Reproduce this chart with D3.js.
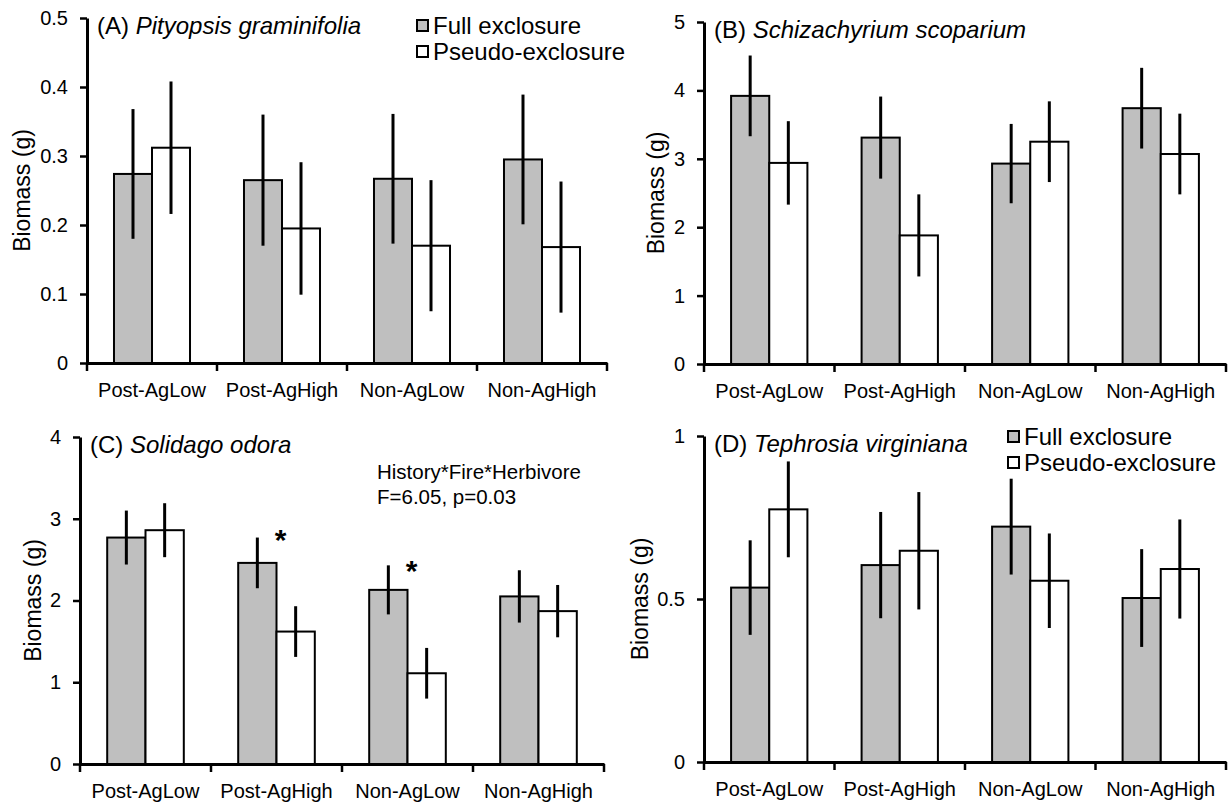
<!DOCTYPE html>
<html>
<head>
<meta charset="utf-8">
<script src="https://cdn.jsdelivr.net/npm/d3@7"></script>
<style>
  body { margin: 0; background: #fff; }
  svg { font-family: "Liberation Sans", Arial, sans-serif; }
</style>
</head>
<body>
<div id="chart"></div>
<script>
const width = 1231;
const height = 809;

const groups = ["Post-AgLow", "Post-AgHigh", "Non-AgLow", "Non-AgHigh"];
const series = ["Full exclosure", "Pseudo-exclosure"];

// (A) Pityopsis graminifolia
const pityFull = [0.274, 0.265, 0.267, 0.295];
const pityFullErr = [0.094, 0.095, 0.094, 0.094];
const pityPseudo = [0.312, 0.195, 0.170, 0.168];
const pityPseudoErr = [0.096, 0.096, 0.095, 0.095];
const pityTicks = [0, 0.1, 0.2, 0.3, 0.4, 0.5];

// (B) Schizachyrium scoparium
const schiFull = [3.92, 3.31, 2.93, 3.74];
const schiFullErr = [0.59, 0.60, 0.58, 0.59];
const schiPseudo = [2.94, 1.88, 3.25, 3.07];
const schiPseudoErr = [0.61, 0.60, 0.59, 0.59];
const schiTicks = [0, 1, 2, 3, 4, 5];

// (C) Solidago odora
const soliFull = [2.77, 2.46, 2.13, 2.05];
const soliFullErr = [0.33, 0.31, 0.30, 0.32];
const soliPseudo = [2.86, 1.62, 1.11, 1.87];
const soliPseudoErr = [0.33, 0.31, 0.31, 0.32];
const soliTicks = [0, 1, 2, 3, 4];
const soliStars = [null, 2.85, 2.47, null];

// (D) Tephrosia virginiana
const tephFull = [0.535, 0.604, 0.722, 0.503];
const tephFullErr = [0.145, 0.163, 0.147, 0.150];
const tephPseudo = [0.775, 0.648, 0.556, 0.592];
const tephPseudoErr = [0.147, 0.180, 0.145, 0.152];
const tephTicks = [0, 0.5, 1];

const fills = ["#bfbfbf", "#ffffff"];

const svg = d3.select("#chart")
  .append("svg")
  .attr("width", width)
  .attr("height", height);

function drawPanel(p) {
  const x0 = d3.scaleBand()
    .domain(groups)
    .range([p.left, p.right])
    .padding(0);

  const x1 = d3.scaleBand()
    .domain(series)
    .range([0, x0.bandwidth()])
    .paddingInner(0)
    .paddingOuter(0.71);

  const y = d3.scaleLinear()
    .domain([0, p.max])
    .range([p.bottom, p.top]);

  const g = svg.append("g");

  const rows = groups.map((grp, i) => ({
    grp: grp,
    vals: [
      { s: series[0], v: p.full[i], e: p.fullErr[i] },
      { s: series[1], v: p.pseudo[i], e: p.pseudoErr[i] }
    ]
  }));

  const grpG = g.selectAll("g.grp")
    .data(rows)
    .join("g")
    .attr("class", "grp")
    .attr("transform", d => `translate(${x0(d.grp)},0)`);

  grpG.selectAll("rect")
    .data(d => d.vals)
    .join("rect")
    .attr("x", d => x1(d.s))
    .attr("y", d => y(d.v))
    .attr("width", x1.bandwidth())
    .attr("height", d => y(0) - y(d.v))
    .attr("fill", (d, i) => fills[i])
    .attr("stroke", "#000")
    .attr("stroke-width", 2);

  grpG.selectAll("line.err")
    .data(d => d.vals)
    .join("line")
    .attr("class", "err")
    .attr("x1", d => x1(d.s) + x1.bandwidth() / 2)
    .attr("x2", d => x1(d.s) + x1.bandwidth() / 2)
    .attr("y1", d => y(d.v - d.e))
    .attr("y2", d => y(d.v + d.e))
    .attr("stroke", "#000")
    .attr("stroke-width", 3);

  // y axis
  const yAxis = d3.axisLeft(y)
    .tickValues(p.ticks)
    .tickSize(7)
    .tickSizeOuter(0)
    .tickPadding(12)
    .tickFormat(d => String(d));

  g.append("g")
    .attr("transform", `translate(${p.left},0)`)
    .call(yAxis)
    .call(a => a.select(".domain").attr("stroke-width", 3))
    .call(a => a.selectAll(".tick line").attr("stroke-width", 2.5))
    .call(a => a.selectAll(".tick text").attr("font-size", 20).attr("fill", "#000"));

  // x axis: labels centred, ticks at band boundaries
  const xAxis = d3.axisBottom(x0)
    .tickSize(0)
    .tickSizeOuter(0)
    .tickPadding(20);

  g.append("g")
    .attr("transform", `translate(0,${p.bottom})`)
    .call(xAxis)
    .call(a => a.select(".domain").attr("stroke-width", 3))
    .call(a => a.selectAll(".tick text").attr("font-size", 20).attr("fill", "#000"));

  const bounds = [x0(groups[0])].concat(groups.map(d => x0(d) + x0.bandwidth()));
  g.selectAll("line.bnd")
    .data(bounds)
    .join("line")
    .attr("class", "bnd")
    .attr("x1", d => d).attr("x2", d => d)
    .attr("y1", p.bottom).attr("y2", p.bottom + 8)
    .attr("stroke", "#000")
    .attr("stroke-width", 2.5);

  // y label
  g.append("text")
    .attr("transform", `translate(${p.left - p.labelOff},${(p.top + p.bottom) / 2}) rotate(-90)`)
    .attr("text-anchor", "middle")
    .attr("dy", "0.35em")
    .attr("font-size", 23)
    .text("Biomass (g)");

  // title
  const t = g.append("text")
    .attr("x", p.left + 10)
    .attr("y", p.top + 16)
    .attr("font-size", 24);
  t.append("tspan").text(p.letter + " ");
  t.append("tspan").attr("font-style", "italic").text(p.species);

  if (p.legend) {
    const lg = g.append("g")
      .attr("transform", `translate(${p.legendX},${p.legendY})`);
    lg.selectAll("rect")
      .data(series)
      .join("rect")
      .attr("x", 0)
      .attr("y", (d, i) => i * 26 - 5)
      .attr("width", 11)
      .attr("height", 11)
      .attr("fill", (d, i) => fills[i])
      .attr("stroke", "#000")
      .attr("stroke-width", 2);
    lg.selectAll("text")
      .data(series)
      .join("text")
      .attr("x", 16)
      .attr("y", (d, i) => i * 26)
      .attr("dy", "0.36em")
      .attr("font-size", 24)
      .text(d => d);
  }

  if (p.stars) {
    g.selectAll("text.star")
      .data(groups.map((grp, i) => ({ grp: grp, v: p.stars[i] })).filter(d => d.v !== null))
      .join("text")
      .attr("class", "star")
      .attr("x", d => x0(d.grp) + x0.bandwidth() / 2 + 4)
      .attr("y", d => y(d.v))
      .attr("dy", "0.62em")
      .attr("text-anchor", "middle")
      .attr("font-size", 30)
      .attr("font-weight", "bold")
      .text("*");
  }

  if (p.note) {
    g.selectAll("text.note")
      .data(p.note)
      .join("text")
      .attr("class", "note")
      .attr("x", p.noteX)
      .attr("y", (d, i) => p.noteY + i * 25)
      .attr("dy", "0.36em")
      .attr("font-size", 20.5)
      .text(d => d);
  }
}

drawPanel({
  left: 87, right: 607, top: 18, bottom: 363, max: 0.5,
  full: pityFull, fullErr: pityFullErr, pseudo: pityPseudo, pseudoErr: pityPseudoErr,
  ticks: pityTicks, letter: "(A)", species: "Pityopsis graminifolia", labelOff: 65,
  legend: true, legendX: 417, legendY: 25
});

drawPanel({
  left: 704, right: 1226, top: 22, bottom: 364, max: 5,
  full: schiFull, fullErr: schiFullErr, pseudo: schiPseudo, pseudoErr: schiPseudoErr,
  ticks: schiTicks, letter: "(B)", species: "Schizachyrium scoparium", labelOff: 48
});

drawPanel({
  left: 80, right: 604, top: 437, bottom: 764, max: 4,
  full: soliFull, fullErr: soliFullErr, pseudo: soliPseudo, pseudoErr: soliPseudoErr,
  ticks: soliTicks, letter: "(C)", species: "Solidago odora", labelOff: 47,
  stars: soliStars,
  note: ["History*Fire*Herbivore", "F=6.05, p=0.03"], noteX: 377, noteY: 472
});

drawPanel({
  left: 704, right: 1226, top: 436, bottom: 762, max: 1,
  full: tephFull, fullErr: tephFullErr, pseudo: tephPseudo, pseudoErr: tephPseudoErr,
  ticks: tephTicks, letter: "(D)", species: "Tephrosia virginiana", labelOff: 64,
  legend: true, legendX: 1008, legendY: 436
});
</script>
</body>
</html>
